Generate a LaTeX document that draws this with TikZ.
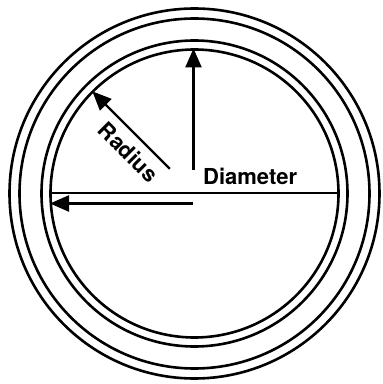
\documentclass[tikz,border=0pt]{standalone}
\usepackage{fontspec}
\setmainfont{TeX Gyre Heros}
\usetikzlibrary{arrows.meta,calc}
\begin{document}
\begin{tikzpicture}[x=1pt,y=1pt,
  ring/.style={line width=2.6pt},
  arr/.style={line width=2.4pt,-{Triangle[length=19pt,width=16pt]}},
  lbl/.style={font=\bfseries\fontsize{22}{24}\selectfont,inner sep=0pt}]
\useasboundingbox (0,0) rectangle (383,384);
\coordinate (C) at (194.5,190.5);
\draw[ring] (C) circle[radius=185];
\draw[ring] (C) circle[radius=175];
\draw[ring] (C) circle[radius=153];
\draw[ring] (C) circle[radius=144];
% diameter
\coordinate (DL) at ($(C)+(-144,0)$);
\coordinate (DR) at ($(C)+(144,0)$);
\draw[line width=2pt] (DL) -- (DR);
% vertical arrow
\coordinate (V0) at ($(C)+(-1,23.5)$);
\coordinate (V1) at ($(C)+(-1,145)$);
\draw[arr] (V0) -- (V1);
% horizontal arrow
\coordinate (H0) at ($(C)+(-1.5,-10)$);
\coordinate (H1) at ($(C)+(-144.5,-10)$);
\draw[arr] (H0) -- (H1);
% radius arrow
\coordinate (R0) at ($(C)+(135:35)$);
\coordinate (R1) at ($(C)+(135:144.5)$);
\draw[arr] (R0) -- (R1);
% labels
\node[lbl,anchor=base west] (dia) at (203,199) {Diameter};
\node[lbl,rotate=-45] (rad) at (128.5,232) {Radius};
\end{tikzpicture}
\end{document}
